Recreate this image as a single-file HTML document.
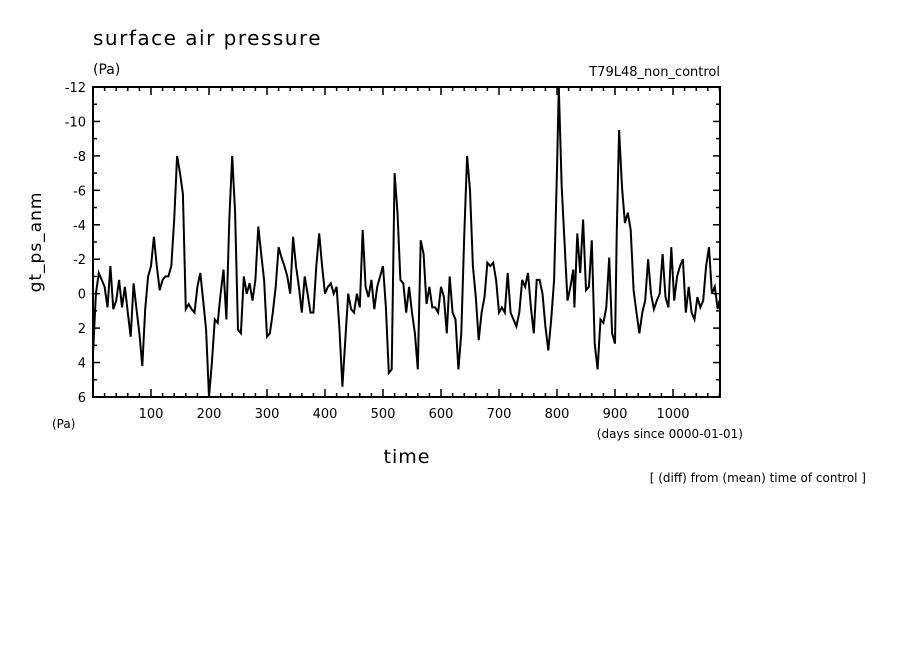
<!DOCTYPE html>
<html><head><meta charset="utf-8"><style>
body{margin:0;background:#fff;}
svg text{font-family:"DejaVu Sans","Liberation Sans",sans-serif;fill:#000;}
</style></head><body>
<svg id="chart" width="904" height="654" xmlns="http://www.w3.org/2000/svg">
<text x="93" y="45" font-size="20" letter-spacing="1.5">surface air pressure</text>
<text x="93" y="74" font-size="14">(Pa)</text>
<text x="720" y="76" font-size="13" text-anchor="end">T79L48_non_control</text>
<text transform="translate(41,242) rotate(-90)" font-size="17" letter-spacing="1" text-anchor="middle">gt_ps_anm</text>
<text x="52" y="428" font-size="12">(Pa)</text>
<text x="743" y="438" font-size="12" text-anchor="end">(days since 0000-01-01)</text>
<text x="407" y="463" font-size="19" letter-spacing="1" text-anchor="middle">time</text>
<text x="866" y="482" font-size="12" text-anchor="end">[ (diff) from (mean) time of control ]</text>
<g id="ticks"></g>
<path id="series" fill="none" stroke="#000" stroke-width="2" stroke-linejoin="miter"></path>
<rect x="93" y="87" width="627" height="310" fill="none" stroke="#000" stroke-width="2"></rect>
</svg>
<script>
const days=[0,5,10,15,20,25,30,35,40,45,50,55,60,65,70,75,80,85,90,95,100,105,110,115,120,125,130,135,140,145,150,155,160,165,170,175,180,185,190,195,200,205,210,215,220,225,230,235,240,245,250,255,260,265,270,275,280,285,290,295,300,305,310,315,320,325,330,335,340,345,350,355,360,365,370,375,380,385,390,395,400,405,410,415,420,425,430,435,440,445,450,455,460,465,470,475,480,485,490,495,500,505,510,515,520,525,530,535,540,545,550,555,560,565,570,575,580,585,590,595,600,605,610,615,620,625,630,635,640,645,650,655,660,665,670,675,680,685,690,695,700,705,710,715,720,725,730,735,740,745,750,755,760,765,770,775,780,785,790,795,800,803,808,813,818,823,828,830,835,840,845,850,855,860,865,870,875,880,885,890,895,900,903,907,912,917,922,927,932,937,942,947,952,957,962,967,972,977,982,987,992,997,1002,1007,1012,1017,1022,1027,1032,1037,1042,1047,1052,1057,1062,1067,1072,1077,1080];
const values=[3.5,0,-1.2,-0.8,-0.4,0.8,-1.6,0.9,0.4,-0.8,0.8,-0.4,1.1,2.5,-0.6,0.9,2.3,4.2,0.9,-1.0,-1.6,-3.3,-1.6,-0.2,-0.8,-1,-1,-1.6,-4.3,-8,-7,-5.8,0.9,0.6,0.9,1.1,-0.4,-1.2,0.4,2.1,6.0,4.0,1.5,1.7,0,-1.4,1.5,-4.3,-8,-4.7,2.1,2.3,-1,0,-0.6,0.4,-0.8,-3.9,-2.3,-0.8,2.5,2.3,1.1,-0.4,-2.7,-2.1,-1.6,-1,0,-3.3,-1.6,-0.4,1.1,-1,0,1.1,1.1,-1.6,-3.5,-1.6,0,-0.4,-0.6,0,-0.4,2.1,5.4,2.7,0,0.9,1.1,0,0.8,-3.7,-0.4,0.2,-0.8,0.9,-0.4,-1,-1.6,0.8,4.6,4.4,-7,-4.7,-0.8,-0.6,1.1,-0.4,1.1,2.3,4.4,-3.1,-2.3,0.6,-0.4,0.8,0.8,1.1,-0.4,0.2,2.3,-1,1.1,1.5,4.4,2.3,-3.3,-8,-6,-1.6,0.2,2.7,1.1,0.2,-1.8,-1.6,-1.8,-0.8,1.1,0.8,1.1,-1.2,1.1,1.5,1.9,1.1,-0.8,-0.4,-1.2,0.8,2.3,-0.8,-0.8,0,1.9,3.3,1.5,-0.8,-7.2,-12,-6.2,-2.9,0.4,-0.4,-1.4,0.8,-3.5,-1.2,-4.3,-0.2,-0.4,-3.1,2.9,4.4,1.5,1.7,0.8,-2.1,2.3,2.9,-3.7,-9.5,-6.2,-4.1,-4.7,-3.7,-0.2,1.1,2.3,1.1,0.4,-2,0,0.9,0.4,0,-2.3,0.2,0.8,-2.7,0.4,-1,-1.6,-2,1.1,-0.4,1.1,1.5,0.2,0.8,0.4,-1.6,-2.7,0,-0.4,0.9,0.4];
const xTickLabels=[100,200,300,400,500,600,700,800,900,1000];
const yTickLabels=[-12,-10,-8,-6,-4,-2,0,2,4,6];
const X0=93,X1=720,Y0=87,Y1=397,DMIN=0,DMAX=1081,VMIN=-12,VMAX=6;
function xs(d){return X0+(d-DMIN)/(DMAX-DMIN)*(X1-X0);}
function ys(v){return Y0+(v-VMIN)/(VMAX-VMIN)*(Y1-Y0);}
const NS="http://www.w3.org/2000/svg";
const g=document.getElementById('ticks');
function line(x1,y1,x2,y2,name){const l=document.createElementNS(NS,'line');l.setAttribute('x1',x1);l.setAttribute('y1',y1);l.setAttribute('x2',x2);l.setAttribute('y2',y2);l.setAttribute('stroke','#000');l.setAttribute('stroke-width','1.5');


g.appendChild(l);}
function text(x,y,s,anchor,name){const t=document.createElementNS(NS,'text');t.setAttribute('x',x);t.setAttribute('y',y);t.setAttribute('font-size','13');t.setAttribute('text-anchor',anchor);t.textContent=s;


g.appendChild(t);}
for(let d=20;d<DMAX;d+=20){const x=xs(d);const major=d%100===0;const L=major?8:4;line(x,Y1,x,Y1-L,'x-tick');line(x,Y0,x,Y0+L,'x-tick');}
xTickLabels.forEach(d=>text(xs(d),418,String(d),'middle','x-tick-label'));
for(let v=VMIN;v<=VMAX;v+=1){const y=ys(v);const major=v%2===0;const L=major?7:4;line(X0,y,X0+L,y,'y-tick');line(X1,y,X1-L,y,'y-tick');}
yTickLabels.forEach(v=>text(86,ys(v)+5,String(v),'end','y-tick-label'));
let dstr='';
for(let i=0;i<days.length;i++){dstr+=(i?'L':'M')+xs(days[i]).toFixed(1)+' '+ys(values[i]).toFixed(1);}
document.getElementById('series').setAttribute('d',dstr);
</script>
</body></html>
